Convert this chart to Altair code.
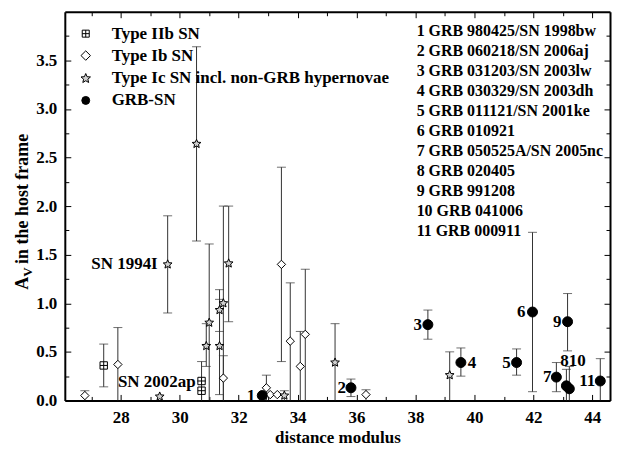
import math
import altair as alt
import pandas as pd

# ---------------- data ----------------
types = ["Type IIb SN", "Type Ib SN", "Type Ic SN incl. non-GRB hypernovae", "GRB-SN"]

iib_d = [27.42, 30.74, 30.74]
iib_a = [0.36, 0.20, 0.10]
iib_lo = [0.14, 0.00, 0.00]
iib_hi = [0.58, 0.40, 0.20]

ib_d = [26.78, 27.90, 31.48, 32.94, 33.07, 33.31, 33.45, 33.75, 34.09, 34.26, 36.32]
ib_a = [0.05, 0.37, 0.23, 0.13, 0.06, 0.06, 1.40, 0.61, 0.35, 0.68, 0.06]
ib_lo = [0.00, 0.00, 0.00, 0.00, 0.06, 0.06, 0.40, 0.00, 0.00, 0.00, 0.00]
ib_hi = [0.10, 0.75, 0.46, 0.26, 0.06, 0.06, 2.40, 1.21, 0.71, 1.35, 0.11]

ic_d = [29.32, 29.59, 30.57, 30.90, 31.00, 31.35, 31.35, 31.48, 31.66, 33.55, 35.27, 39.16]
ic_a = [0.04, 1.40, 2.64, 0.56, 0.80, 0.93, 0.56, 1.00, 1.41, 0.05, 0.39, 0.26]
ic_lo = [0.04, 0.90, 1.64, 0.35, 0.00, 0.71, 0.06, 0.00, 0.81, 0.00, 0.00, 0.00]
ic_hi = [0.04, 1.90, 3.64, 0.79, 1.61, 1.14, 1.04, 2.00, 2.00, 0.10, 0.79, 0.50]

grb_d = [32.80, 35.81, 38.42, 39.54, 41.43, 41.97, 42.78, 43.12, 43.16, 43.22, 44.27]
grb_a = [0.05, 0.13, 0.78, 0.39, 0.39, 0.91, 0.24, 0.15, 0.81, 0.12, 0.20]
grb_lo = [0.05, 0.04, 0.63, 0.25, 0.26, 0.09, 0.09, 0.00, 0.51, 0.00, 0.00]
grb_hi = [0.05, 0.22, 0.93, 0.54, 0.53, 1.73, 0.39, 0.32, 1.10, 0.35, 0.43]
grb_num = ["1", "2", "3", "4", "5", "6", "7", "8", "9", "10", "11"]

grb_names = [
    "1 GRB 980425/SN 1998bw",
    "2 GRB 060218/SN 2006aj",
    "3 GRB 031203/SN 2003lw",
    "4 GRB 030329/SN 2003dh",
    "5 GRB 011121/SN 2001ke",
    "6 GRB 010921",
    "7 GRB 050525A/SN 2005nc",
    "8 GRB 020405",
    "9 GRB 991208",
    "10 GRB 041006",
    "11 GRB 000911",
]

sn_labels = ["SN 1994I", "SN 2002ap"]
sn_label_d = [29.59, 30.74]
sn_label_a = [1.40, 0.19]

x_major = [28, 30, 32, 34, 36, 38, 40, 42, 44]
x_minor = [27, 29, 31, 33, 35, 37, 39, 41, 43]
y_major = [0.0, 0.5, 1.0, 1.5, 2.0, 2.5, 3.0, 3.5]
y_minor = [0.25, 0.75, 1.25, 1.75, 2.25, 2.75, 3.25, 3.75]

# ---------------- styling ----------------
FONT = "Liberation Serif"
ERR = "#333333"

# label offsets (pixels) for the GRB numbers
grb_dx = [-7, -5, -6, 7, -6, -7, -5, -2, -6, 8, -5]
grb_dy = [0, 0, 0, 0, 0, 0, 0, -25, 0, -28, 0]
grb_align = ["right", "right", "right", "left", "right", "right", "right",
             "center", "right", "center", "right"]


def star_path(n=5, ro=1.0, ri=0.45):
    pts = []
    for k in range(2 * n):
        r = ro if k % 2 == 0 else ri
        ang = -math.pi / 2 + k * math.pi / n
        pts.append(f"{r * math.cos(ang):.3f},{r * math.sin(ang):.3f}")
    return "M" + "L".join(pts) + "Z"


BOXPLUS = "M-1,-1L1,-1L1,1L-1,1Z M-1,0L1,0 M0,-1L0,1"
DIAMOND = "M-1,0L0,-1L1,0L0,1Z"
shapes = [BOXPLUS, DIAMOND, star_path(), "circle"]
fills = ["white", "white", "#d0d0d0", "black"]
sizes = [55, 100, 110, 70]

rows = []
for t, D, A, LO, HI in [
    (types[0], iib_d, iib_a, iib_lo, iib_hi),
    (types[1], ib_d, ib_a, ib_lo, ib_hi),
    (types[2], ic_d, ic_a, ic_lo, ic_hi),
    (types[3], grb_d, grb_a, grb_lo, grb_hi),
]:
    for d, a, lo, hi in zip(D, A, LO, HI):
        rows.append({"type": t, "d": d, "a": a, "lo": lo, "hi": hi})
df = pd.DataFrame(rows)

xsc = alt.Scale(domain=[26.1, 44.6], nice=False, zero=False)
ysc = alt.Scale(domain=[0, 4], nice=False, zero=False)

ax_main = alt.Axis(
    values=x_major, ticks=False, tickSize=0, domain=True, domainColor="black",
    domainWidth=2, grid=False,
    labelFont=FONT, labelFontWeight="bold", labelFontSize=17, labelColor="black",
    labelPadding=9, labelFlush=False, labelOverlap=False,
    title="distance modulus", titleFont=FONT, titleFontWeight="bold",
    titleFontSize=17, titleColor="black", titlePadding=4,
)
ay_main = alt.Axis(
    values=y_major, format=".1f", ticks=False, tickSize=0, domain=True,
    domainColor="black", domainWidth=2, grid=False,
    labelFont=FONT, labelFontWeight="bold", labelFontSize=17, labelColor="black",
    labelPadding=8, labelFlush=False, labelOverlap=False, title=None,
)


def tick_axis(orient, vals, size):
    return alt.Axis(orient=orient, values=vals, labels=False, domain=False, grid=False,
                    ticks=True, tickSize=size, tickWidth=1, tickColor="black",
                    offset=-size, title=None)


def frame_axis(orient):
    return alt.Axis(orient=orient, values=[], labels=False, ticks=False, grid=False,
                    domain=True, domainColor="black", domainWidth=2, title=None)


def X(field="d", axis=None):
    return alt.X(f"{field}:Q", scale=xsc, axis=axis)


def Y(field, axis=None):
    return alt.Y(f"{field}:Q", scale=ysc, axis=axis)


base = alt.Chart(df)

err = base.transform_filter("datum.hi > datum.lo").mark_rule(
    color=ERR, strokeWidth=1, clip=True
).encode(x=X(), y=Y("lo"), y2="hi:Q")

cap_hi = base.transform_filter("datum.hi > datum.a + 0.001").mark_tick(
    orient="horizontal", size=9, thickness=1, color=ERR
).encode(x=X(), y=Y("hi"))

cap_lo = base.transform_filter("datum.lo > 0.001 && datum.lo < datum.a - 0.001").mark_tick(
    orient="horizontal", size=9, thickness=1, color=ERR
).encode(x=X(), y=Y("lo"))

pts = base.mark_point(stroke="black", strokeWidth=1, opacity=1, fillOpacity=1).encode(
    x=X(axis=ax_main),
    y=Y("a", axis=ay_main),
    shape=alt.Shape("type:N", scale=alt.Scale(domain=types, range=shapes), legend=None),
    fill=alt.Fill("type:N", scale=alt.Scale(domain=types, range=fills), legend=None),
    size=alt.Size("type:N", scale=alt.Scale(domain=types, range=sizes), legend=None),
)

layers = [err, cap_hi, cap_lo, pts]

# GRB number labels
grb_df = pd.DataFrame({"d": grb_d, "a": grb_a, "n": grb_num})
for i in range(len(grb_num)):
    layers.append(
        alt.Chart(grb_df.iloc[[i]]).mark_text(
            font=FONT, fontWeight="bold", fontSize=17, color="black",
            align=grb_align[i], baseline="middle", dx=grb_dx[i], dy=grb_dy[i]
        ).encode(x=X(), y=Y("a"), text="n:N")
    )

sn_df = pd.DataFrame({"d": sn_label_d, "a": sn_label_a, "t": sn_labels})
sn_dx = [-10, -6]
for i in range(len(sn_labels)):
    layers.append(
        alt.Chart(sn_df.iloc[[i]]).mark_text(
            font=FONT, fontWeight="bold", fontSize=17, color="black",
            align="right", baseline="middle", dx=sn_dx[i]
        ).encode(x=X(), y=Y("a"), text="t:N")
    )

# legend (top left), drawn by hand
leg_x_sym, leg_x_txt = 21, 47
leg_y = [22, 44, 67, 89]
for i, t in enumerate(types):
    one = pd.DataFrame({"t": [t]})
    layers.append(
        alt.Chart(one).mark_point(
            shape=shapes[i], size=sizes[i] * 0.9, fill=fills[i], stroke="black",
            strokeWidth=1, opacity=1, fillOpacity=1
        ).encode(x=alt.value(leg_x_sym), y=alt.value(leg_y[i]))
    )
    layers.append(
        alt.Chart(one).mark_text(
            font=FONT, fontWeight="bold", fontSize=17, color="black",
            align="left", baseline="middle"
        ).encode(x=alt.value(leg_x_txt), y=alt.value(leg_y[i]), text="t:N")
    )

# list of GRB names (top right)
names_df = pd.DataFrame({"t": ["\n".join(grb_names)]})
layers.append(
    alt.Chart(names_df).mark_text(
        font=FONT, fontWeight="bold", fontSize=16, color="black", align="left",
        baseline="alphabetic", lineBreak="\n", lineHeight=20.1
    ).encode(x=alt.value(353), y=alt.value(24), text="t:N")
)

# y axis title  A_V in the host frame
ytitle_parts = ["A", "V", "in the host frame"]
ytitle_y = [279, 266, 253]
ytitle_x = [-37, -33, -37]
ytitle_size = [18, 13, 18]
for i, part in enumerate(ytitle_parts):
    layers.append(
        alt.Chart(pd.DataFrame({"t": [part]})).mark_text(
            font=FONT, fontWeight="bold", fontSize=ytitle_size[i], color="black",
            align="left", baseline="alphabetic", angle=270
        ).encode(x=alt.value(ytitle_x[i]), y=alt.value(ytitle_y[i]), text="t:N")
    )

# inward ticks on all four sides, plus the top/right frame lines
for xa, ya in [
    (tick_axis("bottom", x_major, 6), tick_axis("left", y_major, 6)),
    (tick_axis("bottom", x_minor, 4), tick_axis("left", y_minor, 4)),
    (tick_axis("top", x_major, 6), tick_axis("right", y_major, 6)),
    (tick_axis("top", x_minor, 4), tick_axis("right", y_minor, 4)),
    (frame_axis("top"), frame_axis("right")),
]:
    layers.append(base.mark_point(opacity=0).encode(x=X(axis=xa), y=Y("a", axis=ya)))

chart = alt.layer(*layers).resolve_axis(x="independent", y="independent").properties(
    width=547, height=390,
    background="white",
    autosize=alt.AutoSizeParams(type="none"),
    padding={"left": 57, "top": 3, "right": 2, "bottom": 50},
).configure_view(
    stroke=None
).configure_axis(
    labelFont=FONT, titleFont=FONT, labelFontWeight="bold", titleFontWeight="bold",
    labelColor="black", titleColor="black", grid=False
).configure_text(font=FONT)

chart.save("out.html", embed_options={"renderer": "svg", "actions": False})
